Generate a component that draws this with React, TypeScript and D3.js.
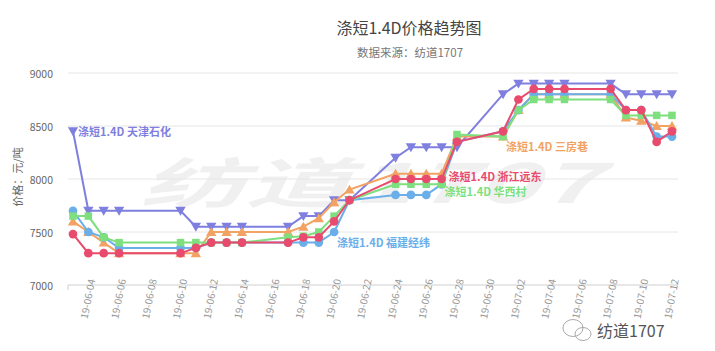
import React from "react";
import * as d3 from "d3";

const dates = [
  "2019-06-03", "2019-06-04", "2019-06-05", "2019-06-06", "2019-06-10", "2019-06-11",
  "2019-06-12", "2019-06-13", "2019-06-14", "2019-06-17", "2019-06-18", "2019-06-19",
  "2019-06-20", "2019-06-21", "2019-06-24", "2019-06-25", "2019-06-26", "2019-06-27",
  "2019-06-28", "2019-07-01", "2019-07-02", "2019-07-03", "2019-07-04", "2019-07-05",
  "2019-07-08", "2019-07-09", "2019-07-10", "2019-07-11", "2019-07-12",
];

const tianjin = [8450, 7700, 7700, 7700, 7700, 7550, 7550, 7550, 7550, 7550, 7650, 7650, 7800, 7800, 8200, 8300, 8300, 8300, 8300, 8800, 8900, 8900, 8900, 8900, 8900, 8800, 8800, 8800, 8800];
const sanfangxiang = [7600, 7500, 7400, 7300, 7300, 7300, 7500, 7500, 7500, 7500, 7550, 7630, 7780, 7900, 8050, 8050, 8050, 8050, 8400, 8400, 8650, 8800, 8800, 8800, 8800, 8580, 8550, 8500, 8500];
const fujian = [7700, 7500, 7450, 7350, 7350, 7350, 7400, 7400, 7400, 7400, 7400, 7400, 7500, 7800, 7850, 7850, 7850, 7950, 8350, 8450, 8650, 8800, 8800, 8800, 8800, 8650, 8650, 8400, 8400];
const huaxicun = [7650, 7650, 7450, 7400, 7400, 7400, 7400, 7400, 7400, 7450, 7460, 7500, 7650, 7800, 7950, 7950, 7950, 7950, 8420, 8400, 8650, 8750, 8750, 8750, 8750, 8600, 8600, 8600, 8600];
const zhejiang = [7480, 7300, 7300, 7300, 7300, 7350, 7400, 7400, 7400, 7400, 7450, 7450, 7600, 7800, 8000, 8000, 8000, 8000, 8350, 8450, 8750, 8850, 8850, 8850, 8850, 8650, 8650, 8350, 8450];

const yTicks = [7000, 7500, 8000, 8500, 9000];
const xTickDates = [
  "2019-06-04", "2019-06-06", "2019-06-08", "2019-06-10", "2019-06-12", "2019-06-14",
  "2019-06-16", "2019-06-18", "2019-06-20", "2019-06-22", "2019-06-24", "2019-06-26",
  "2019-06-28", "2019-06-30", "2019-07-02", "2019-07-04", "2019-07-06", "2019-07-08",
  "2019-07-10", "2019-07-12",
];

const seriesNames = ["涤短1.4D 天津石化", "涤短1.4D 三房巷", "涤短1.4D 福建经纬", "涤短1.4D 华西村", "涤短1.4D 浙江远东"];

const parse = d3.timeParse("%Y-%m-%d");
const fmt = d3.timeFormat("%y-%m-%d");

const FONT = "'Noto Sans CJK SC', 'Noto Sans', sans-serif";

export default function App() {
  const W = 715, H = 351;
  const x = d3.scaleTime().domain([parse("2019-06-03")!, parse("2019-07-12")!]).range([73, 672]);
  const y = d3.scaleLinear().domain([7000, 9000]).range([285, 73]);
  const gridX0 = 68, gridX1 = 678;

  const series = [
    { name: seriesNames[0], values: tianjin, color: "#7f7fe0", symbol: "tridown", labelIdx: 0, dx: 5, dy: 0 },
    { name: seriesNames[1], values: sanfangxiang, color: "#f2a262", symbol: "triup", labelIdx: 19, dx: 3, dy: 9 },
    { name: seriesNames[2], values: fujian, color: "#6aaeea", symbol: "circle", labelIdx: 12, dx: 3, dy: 10 },
    { name: seriesNames[3], values: huaxicun, color: "#7ddf7d", symbol: "square", labelIdx: 17, dx: 3, dy: 7 },
    { name: seriesNames[4], values: zhejiang, color: "#e84b6e", symbol: "circle", labelIdx: 17, dx: 7, dy: -3 },
  ];

  const line = d3.line<[Date, number]>().x((d) => x(d[0])).y((d) => y(d[1]));
  const dts = dates.map((d) => parse(d)!);

  const symPath = (kind: string) => {
    if (kind === "circle") return d3.symbol().type(d3.symbolCircle).size(60)()!;
    if (kind === "square") return d3.symbol().type(d3.symbolSquare).size(56)()!;
    return d3.symbol().type(d3.symbolTriangle).size(46)()!;
  };

  return (
    <svg width={W} height={H} style={{ position: "absolute", left: 0, top: 0, background: "#fff" }} fontFamily={FONT}>
      <rect x={0} y={0} width={W} height={H} fill="#fff" />
      {/* watermark */}
      <text x={140} y={203} fontSize={54} fontWeight="bold" fontStyle="italic" fill="#f0f0f0" textLength={460} lengthAdjust="spacingAndGlyphs">纺道1707</text>

      <text x={409} y={34} textAnchor="middle" fontSize={16} fill="#444">涤短1.4D价格趋势图</text>
      <text x={410} y={57} textAnchor="middle" fontSize={11.5} fill="#777">数据来源：纺道1707</text>

      {yTicks.map((t) => (
        <g key={t}>
          <line x1={gridX0} x2={gridX1} y1={y(t)} y2={y(t)} stroke={t === 7000 ? "#cfcfcf" : "#e6e6e6"} strokeWidth={1} />
          <text x={53} y={y(t)} textAnchor="end" dominantBaseline="central" fontSize={10.5} fill="#666">{t}</text>
        </g>
      ))}
      <line x1={gridX0} x2={gridX0} y1={285} y2={290} stroke="#cfcfcf" />
      <text transform={`translate(17,177) rotate(-90)`} textAnchor="middle" dominantBaseline="central" fontSize={11} fill="#666">价格：元/吨</text>

      {xTickDates.map((s) => {
        const d = parse(s)!;
        return (
          <text key={s} transform={`translate(${x(d) + 2.5},279) rotate(-79)`} textAnchor="end" dominantBaseline="central" fontSize={10} fill="#999">{fmt(d)}</text>
        );
      })}

      {series.map((s) => {
        const pts: [Date, number][] = dts.map((d, i) => [d, s.values[i]]);
        return (
          <g key={s.name}>
            <path d={line(pts)!} fill="none" stroke={s.color} strokeWidth={2} />
            {pts.map((p, i) => (
              <path key={i} d={symPath(s.symbol)} fill={s.color}
                transform={`translate(${x(p[0])},${y(p[1]) + (s.symbol === "tridown" ? -1 : s.symbol === "triup" ? 1 : 0)}) rotate(${s.symbol === "tridown" ? 180 : 0})`} />
            ))}
          </g>
        );
      })}

      {series.map((s) => (
        <text key={"l" + s.name} x={x(dts[s.labelIdx]) + s.dx} y={y(s.values[s.labelIdx]) + s.dy}
          dominantBaseline="central" fontSize={11} fontWeight={600} fill={s.color}>{s.name}</text>
      ))}

      {/* bottom right brand */}
      <g stroke="#aaa" fill="none" strokeWidth={1}>
        <ellipse cx={573} cy={328} rx={10} ry={8.5} />
        <ellipse cx={583} cy={334} rx={8} ry={6.5} />
      </g>
      <text x={597} y={337} fontSize={16} fill="#555">纺道1707</text>
    </svg>
  );
}
